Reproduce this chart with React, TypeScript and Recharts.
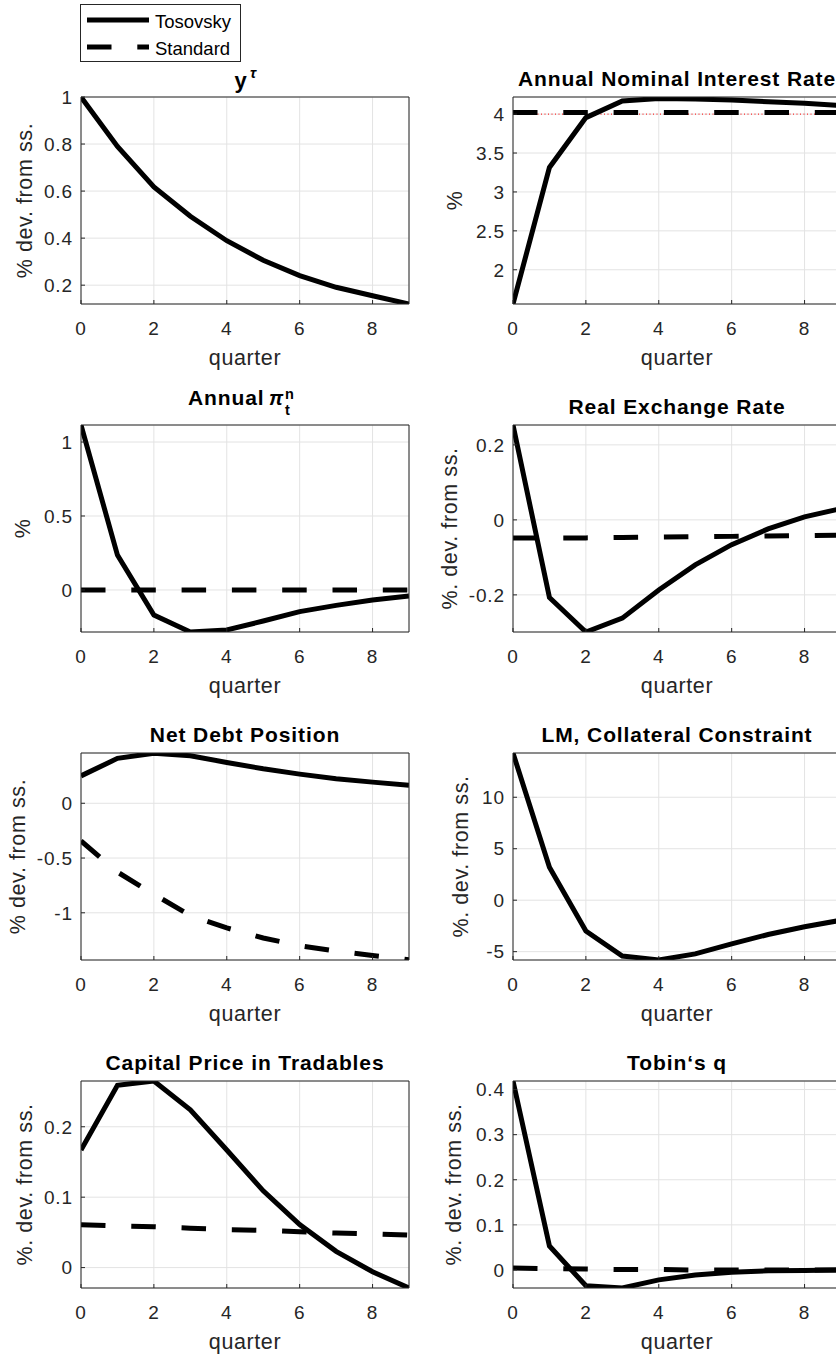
import React from 'react';
import { LineChart, Line, XAxis, YAxis, CartesianGrid, ReferenceLine } from 'recharts';

// ---------- data ----------
const quarters = [0, 1, 2, 3, 4, 5, 6, 7, 8, 9];
const quarterTicks = [0, 2, 4, 6, 8];

// y^tau
const yTauTosovsky = [1.0, 0.79, 0.618, 0.493, 0.389, 0.306, 0.241, 0.191, 0.155, 0.12];
const yTauTicks = [0.2, 0.4, 0.6, 0.8, 1];
const yTauRange: [number, number] = [0.12, 1];

// Annual nominal interest rate
const nomRateTosovsky = [1.56, 3.315, 3.955, 4.17, 4.2, 4.195, 4.18, 4.16, 4.14, 4.11];
const nomRateStandard = [4.02, 4.02, 4.02, 4.02, 4.02, 4.02, 4.02, 4.02, 4.02, 4.02];
const nomRateTicks = [2, 2.5, 3, 3.5, 4];
const nomRateRange: [number, number] = [1.56, 4.22];
const nomRateSteadyState = 4;

// Annual inflation
const inflTosovsky = [1.115, 0.236, -0.17, -0.284, -0.27, -0.21, -0.146, -0.104, -0.068, -0.04];
const inflStandard = [0, 0, 0, 0, 0, 0, 0, 0, 0, 0];
const inflTicks = [0, 0.5, 1];
const inflRange: [number, number] = [-0.284, 1.115];

// Real exchange rate
const rerTosovsky = [0.253, -0.207, -0.299, -0.262, -0.187, -0.12, -0.066, -0.024, 0.008, 0.03];
const rerStandard = [-0.048, -0.048, -0.048, -0.047, -0.046, -0.045, -0.044, -0.043, -0.042, -0.041];
const rerTicks = [-0.2, 0, 0.2];
const rerRange: [number, number] = [-0.299, 0.253];

// Net debt position
const debtTosovsky = [0.25, 0.41, 0.457, 0.434, 0.373, 0.315, 0.266, 0.223, 0.193, 0.165];
const debtStandard = [-0.343, -0.628, -0.831, -1.025, -1.138, -1.23, -1.3, -1.35, -1.39, -1.43];
const debtTicks = [-1, -0.5, 0];
const debtRange: [number, number] = [-1.431, 0.459];

// LM, collateral constraint
const lmTosovsky = [14.3, 3.19, -3.0, -5.42, -5.8, -5.22, -4.25, -3.33, -2.58, -1.95];
const lmTicks = [-5, 0, 5, 10];
const lmRange: [number, number] = [-5.81, 14.3];

// Capital price in tradables
const capTosovsky = [0.167, 0.259, 0.265, 0.224, 0.167, 0.109, 0.061, 0.023, -0.006, -0.029];
const capStandard = [0.061, 0.059, 0.058, 0.056, 0.054, 0.053, 0.051, 0.049, 0.048, 0.046];
const capTicks = [0, 0.1, 0.2];
const capRange: [number, number] = [-0.029, 0.265];

// Tobin's q
const tobinTosovsky = [0.419, 0.053, -0.035, -0.04, -0.022, -0.011, -0.005, -0.002, -0.001, 0];
const tobinStandard = [0.0045, 0.003, 0.002, 0.001, 0.001, 0, 0, 0, 0, 0];
const tobinTicks = [0, 0.1, 0.2, 0.3, 0.4];
const tobinRange: [number, number] = [-0.04, 0.419];

// ---------- styling ----------
const FONT = '"Liberation Sans", Arial, Helvetica, sans-serif';
const AXIS_GRAY = '#262626';
const GRID_GRAY = '#e3e3e3';
const DASH = '24.5 25.8';
const LINE_W = 5;

const PLOT_W = 328;
const PLOT_H = 207;
const TOP_PAD = 50;
const BOTTOM_PAD = 70;
const ROW_STEP = 328;
const TICK_LEN = -4;

const TITLE_SIZE = 21;
const TITLE_LS = 0.9;
const LABEL_SIZE = 21.5;
const LABEL_LS = 0.6;
const TICK_SIZE = 19;
const TICK_LS = 0.8;

type PanelSpec = {
  key: string;
  col: 0 | 1;
  row: number;
  title: (cx: number) => React.ReactNode;
  yLabel: string;
  yLabelX: number; // page x of the y-label centre
  yTicks: number[];
  yRange: [number, number];
  tosovsky: number[];
  standard?: number[];
  steadyState?: number;
};

const plainTitle = (text: string) => (cx: number) => (
  <text
    x={cx}
    y={TOP_PAD - 11}
    textAnchor="middle"
    fontWeight="bold"
    fontSize={TITLE_SIZE}
    letterSpacing={TITLE_LS}
    fill="#000"
    fontFamily={FONT}
  >
    {text}
  </text>
);

const yTauTitle = (cx: number) => (
  <g fontFamily={FONT} fontWeight="bold" fill="#000">
    <text x={cx - 4.5} y={TOP_PAD - 9} textAnchor="middle" fontSize={TITLE_SIZE + 1}>y</text>
    <text x={cx + 5} y={TOP_PAD - 19} fontSize={15} fontStyle="italic">τ</text>
  </g>
);

const inflTitle = (cx: number) => (
  <g fontFamily={FONT} fontWeight="bold" fill="#000">
    <text x={cx - 57} y={TOP_PAD - 20} fontSize={TITLE_SIZE} letterSpacing={TITLE_LS}>Annual</text>
    <text x={cx + 24} y={TOP_PAD - 20} fontSize={20} fontStyle="italic">π</text>
    <text x={cx + 40} y={TOP_PAD - 26} fontSize={14.5}>n</text>
    <text x={cx + 40} y={TOP_PAD - 10} fontSize={14.5}>t</text>
  </g>
);

const panels: PanelSpec[] = [
  { key: 'ytau', col: 0, row: 0, title: yTauTitle, yLabel: '% dev. from ss.', yLabelX: 25,
    yTicks: yTauTicks, yRange: yTauRange, tosovsky: yTauTosovsky },
  { key: 'nom', col: 1, row: 0, title: plainTitle('Annual Nominal Interest Rate'), yLabel: '%', yLabelX: 455,
    yTicks: nomRateTicks, yRange: nomRateRange, tosovsky: nomRateTosovsky, standard: nomRateStandard,
    steadyState: nomRateSteadyState },
  { key: 'infl', col: 0, row: 1, title: inflTitle, yLabel: '%', yLabelX: 23,
    yTicks: inflTicks, yRange: inflRange, tosovsky: inflTosovsky, standard: inflStandard },
  { key: 'rer', col: 1, row: 1, title: plainTitle('Real Exchange Rate'), yLabel: '%. dev. from ss.', yLabelX: 450,
    yTicks: rerTicks, yRange: rerRange, tosovsky: rerTosovsky, standard: rerStandard },
  { key: 'debt', col: 0, row: 2, title: plainTitle('Net Debt Position'), yLabel: '% dev. from ss.', yLabelX: 18,
    yTicks: debtTicks, yRange: debtRange, tosovsky: debtTosovsky, standard: debtStandard },
  { key: 'lm', col: 1, row: 2, title: plainTitle('LM, Collateral Constraint'), yLabel: '%. dev. from ss.', yLabelX: 461,
    yTicks: lmTicks, yRange: lmRange, tosovsky: lmTosovsky },
  { key: 'cap', col: 0, row: 3, title: plainTitle('Capital Price in Tradables'), yLabel: '%. dev. from ss.', yLabelX: 25,
    yTicks: capTicks, yRange: capRange, tosovsky: capTosovsky, standard: capStandard },
  { key: 'tobin', col: 1, row: 3, title: plainTitle('Tobin‘s q'), yLabel: '%. dev. from ss.', yLabelX: 454,
    yTicks: tobinTicks, yRange: tobinRange, tosovsky: tobinTosovsky, standard: tobinStandard },
];

const tickStyle = {
  fontSize: TICK_SIZE,
  fill: AXIS_GRAY,
  fontFamily: FONT,
  letterSpacing: TICK_LS,
  style: { letterSpacing: `${TICK_LS}px` },
};
const axisStroke = { stroke: AXIS_GRAY, strokeWidth: 1 };

function Panel({ spec }: { spec: PanelSpec }) {
  const plotLeft = spec.col === 0 ? 81 : 513;
  const chartLeft = spec.col === 0 ? 0 : 430;
  const plotTop = 97 + ROW_STEP * spec.row;
  const chartTop = plotTop - TOP_PAD;
  const axisW = plotLeft - chartLeft;
  const cx = axisW + PLOT_W / 2;
  const cy = TOP_PAD + PLOT_H / 2;
  const labelX = spec.yLabelX - chartLeft;

  const rows = quarters.map((q, i) => ({
    q,
    tos: spec.tosovsky[i],
    std: spec.standard ? spec.standard[i] : undefined,
  }));

  return (
    <div style={{ position: 'absolute', left: chartLeft, top: chartTop }}>
      <LineChart
        width={axisW + PLOT_W + 11}
        height={TOP_PAD + PLOT_H + BOTTOM_PAD}
        data={rows}
        margin={{ top: TOP_PAD - 1, right: 10, bottom: 0, left: 0 }}
      >
        <CartesianGrid stroke={GRID_GRAY} strokeWidth={1} />
        <XAxis
          dataKey="q"
          type="number"
          domain={[0, 9]}
          ticks={quarterTicks}
          interval={0}
          allowDataOverflow
          height={BOTTOM_PAD}
          tickSize={TICK_LEN}
          tickMargin={21.5}
          tick={tickStyle}
          axisLine={axisStroke}
          tickLine={axisStroke}
          label={() => (
            <text
              x={cx}
              y={TOP_PAD + PLOT_H + 61}
              textAnchor="middle"
              fontSize={LABEL_SIZE}
              letterSpacing={LABEL_LS}
              fill={AXIS_GRAY}
              fontFamily={FONT}
            >
              quarter
            </text>
          )}
        />
        <XAxis
          xAxisId="top"
          orientation="top"
          dataKey="q"
          type="number"
          domain={[0, 9]}
          ticks={quarterTicks}
          interval={0}
          allowDataOverflow
          height={1}
          tickSize={TICK_LEN}
          tick={false}
          axisLine={axisStroke}
          tickLine={axisStroke}
          label={() => <g>{spec.title(cx)}</g>}
        />
        <YAxis
          type="number"
          domain={spec.yRange}
          ticks={spec.yTicks}
          interval={0}
          allowDataOverflow
          width={axisW}
          tickSize={TICK_LEN}
          tickMargin={12.2}
          tick={tickStyle}
          axisLine={axisStroke}
          tickLine={axisStroke}
          label={() => (
            <text
              x={labelX}
              y={cy}
              transform={`rotate(-90, ${labelX}, ${cy})`}
              textAnchor="middle"
              dominantBaseline="central"
              fontSize={LABEL_SIZE}
              letterSpacing={LABEL_LS}
              fill={AXIS_GRAY}
              fontFamily={FONT}
            >
              {spec.yLabel}
            </text>
          )}
        />
        <YAxis
          yAxisId="right"
          orientation="right"
          type="number"
          domain={spec.yRange}
          ticks={spec.yTicks}
          interval={0}
          allowDataOverflow
          width={1}
          tickSize={TICK_LEN}
          tick={false}
          axisLine={axisStroke}
          tickLine={axisStroke}
        />
        {spec.steadyState !== undefined && (
          <ReferenceLine y={spec.steadyState} stroke="#ff0000" strokeWidth={1} strokeDasharray="1 2.5" />
        )}
        <Line
          dataKey="tos"
          type="linear"
          stroke="#000"
          strokeWidth={LINE_W}
          strokeLinejoin="miter"
          strokeLinecap="butt"
          dot={false}
          activeDot={false}
          isAnimationActive={false}
        />
        {spec.standard && (
          <Line
            dataKey="std"
            type="linear"
            stroke="#000"
            strokeWidth={LINE_W}
            strokeDasharray={DASH}
            strokeLinejoin="miter"
            strokeLinecap="butt"
            dot={false}
            activeDot={false}
            isAnimationActive={false}
          />
        )}
      </LineChart>
    </div>
  );
}

function LegendBox() {
  return (
    <svg width={250} height={70} style={{ position: 'absolute', left: 0, top: 0 }}>
      <rect x={80.5} y={4.5} width={160} height={57} fill="#fff" stroke={AXIS_GRAY} strokeWidth={1} />
      <line x1={87} y1={20} x2={149} y2={20} stroke="#000" strokeWidth={LINE_W} />
      <line x1={87} y1={47} x2={149} y2={47} stroke="#000" strokeWidth={LINE_W} strokeDasharray={DASH} />
      <text x={155} y={27.5} fontSize={18.5} fill="#000" fontFamily={FONT}>Tosovsky</text>
      <text x={155} y={54.5} fontSize={18.5} fill="#000" fontFamily={FONT}>Standard</text>
    </svg>
  );
}

export default function App() {
  return (
    <div
      style={{
        position: 'absolute',
        left: 0,
        top: 0,
        width: 836,
        height: 1359,
        overflow: 'hidden',
        background: '#fff',
        fontFamily: FONT,
      }}
    >
      {panels.map((p) => (
        <Panel key={p.key} spec={p} />
      ))}
      <LegendBox />
    </div>
  );
}
